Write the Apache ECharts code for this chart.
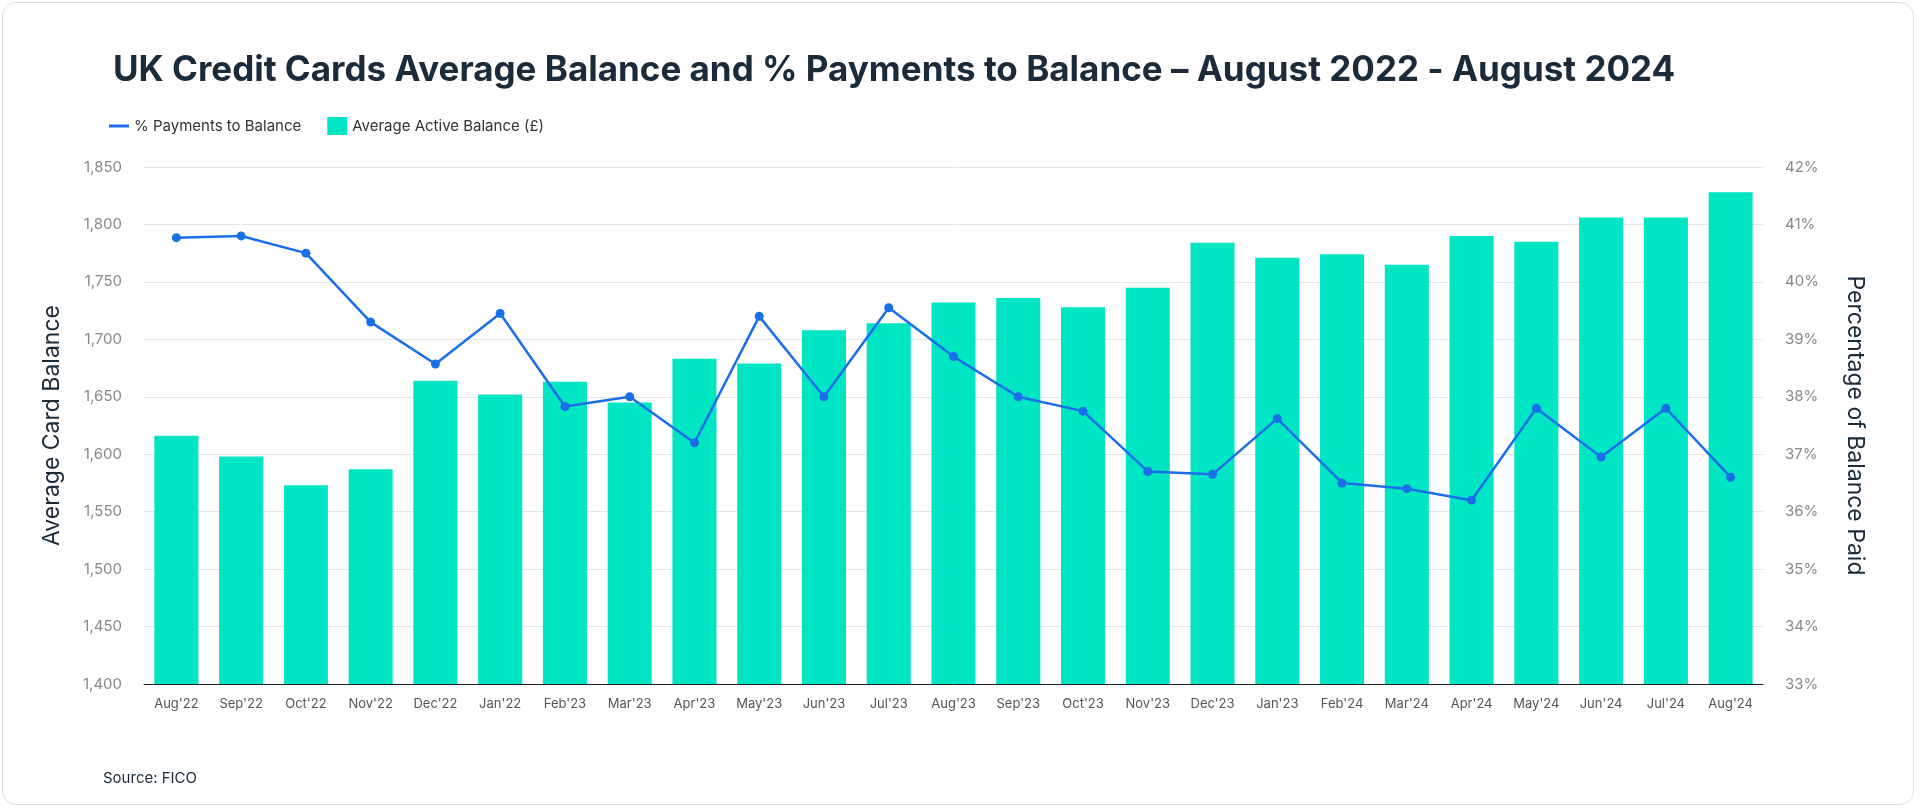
<!DOCTYPE html>
<html><head><meta charset="utf-8">
<script src="https://cdn.jsdelivr.net/npm/echarts@6/dist/echarts.min.js"></script>
<style>
html,body{margin:0;padding:0;background:#fff;}
#card{position:absolute;left:2px;top:2px;width:1912px;height:803px;border:1px solid #d9dde2;border-radius:14px;box-sizing:border-box;}
#main{position:absolute;left:0;top:0;width:1920px;height:811px;}
</style></head><body>
<div id="card"></div>
<div id="main"></div>
<script>
const months = ["Aug'22","Sep'22","Oct'22","Nov'22","Dec'22","Jan'22","Feb'23","Mar'23","Apr'23","May'23","Jun'23","Jul'23","Aug'23","Sep'23","Oct'23","Nov'23","Dec'23","Jan'23","Feb'24","Mar'24","Apr'24","May'24","Jun'24","Jul'24","Aug'24"];
const avgBalance = [1616,1598,1573,1587,1664,1652,1663,1645,1683,1679,1708,1714,1732,1736,1728,1745,1784,1771,1774,1765,1790,1785,1806,1806,1828];
const pctPaid = [40.77,40.8,40.5,39.3,38.57,39.45,37.83,38.0,37.2,39.4,38.0,39.55,38.7,38.0,37.75,36.7,36.65,37.62,36.5,36.4,36.2,37.8,36.95,37.8,36.6];

const chart = echarts.init(document.getElementById('main'));
const font = 'Inter, "Noto Sans", sans-serif';
chart.setOption({
  textStyle:{fontFamily:font},
  title:[{text:'UK Credit Cards Average Balance and % Payments to Balance – August 2022 - August 2024',
    left:108,top:48,textStyle:{fontSize:35,fontWeight:'bold',color:'#1c2b3a',fontFamily:font}},
    {text:'Source: FICO',left:98,top:766,textStyle:{fontSize:15,fontWeight:'normal',color:'#1c2b3a',fontFamily:font}}],
  legend:{left:104,top:112,itemGap:26,itemWidth:20,itemHeight:18,
    textStyle:{fontSize:15,color:'#333'},
    data:[{name:'% Payments to Balance',icon:'path://M0,8 L20,8 L20,11 L0,11 Z'},{name:'Average Active Balance (£)',icon:'rect'}]},
  grid:{left:144,right:157,top:167,bottom:127},
  xAxis:{type:'category',data:months,
    axisLine:{lineStyle:{color:'#222'}},axisTick:{show:false},
    axisLabel:{color:'#555',fontSize:13,margin:14}},
  yAxis:[{type:'value',min:1400,max:1850,interval:50,name:'Average Card Balance',
      nameLocation:'middle',nameGap:80,nameTextStyle:{fontSize:23,color:'#1c2b3a'},
      axisLabel:{color:'#888',fontSize:15,margin:22},
      splitLine:{lineStyle:{color:'#e3e5e8'}}},
    {type:'value',min:33,max:42,interval:1,name:'Percentage of Balance Paid',
      nameLocation:'middle',nameGap:80,nameRotate:-90,nameTextStyle:{fontSize:23,color:'#1c2b3a'},
      axisLabel:{color:'#888',fontSize:15,margin:22,formatter:'{value}%'},
      splitLine:{show:false}}],
  series:[
    {name:'Average Active Balance (£)',type:'bar',data:avgBalance,barWidth:'68%',
      itemStyle:{color:'#00e5c3'}},
    {name:'% Payments to Balance',type:'line',yAxisIndex:1,data:pctPaid,
      symbol:'circle',symbolSize:9,lineStyle:{color:'#1a6fe8',width:2.5},
      itemStyle:{color:'#1a6fe8'},z:5}
  ]
});
</script></body></html>
